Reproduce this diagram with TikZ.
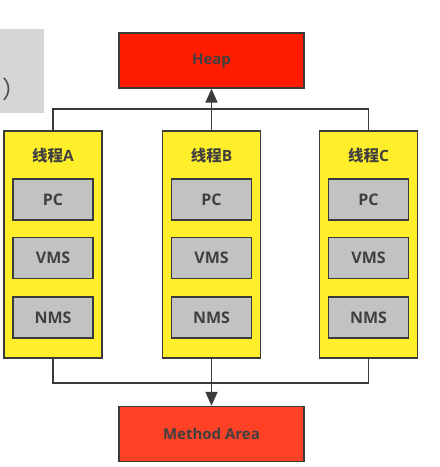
\documentclass[tikz,border=0pt]{standalone}
\usepackage{fontspec}
\setmainfont{Open Sans}
\newfontfamily\cjk{Noto Sans CJK SC}
\usetikzlibrary{arrows.meta, positioning}
\definecolor{heapred}{HTML}{FF1C00}
\definecolor{methodred}{HTML}{FF4226}
\definecolor{threadyellow}{HTML}{FFEF2A}
\definecolor{reggray}{HTML}{C2C2C2}
\definecolor{edgegray}{HTML}{3A3A3A}
\definecolor{taggray}{HTML}{D6D6D6}
\tikzstyle{area} = [rectangle, minimum width=185pt, minimum height=55pt, text centered, draw=edgegray, line width=1.4pt, text=black!75, font=\bfseries\fontsize{15}{17}\selectfont]
\tikzstyle{thread} = [rectangle, minimum width=98pt, minimum height=227pt, draw=edgegray, fill=threadyellow, line width=1.4pt]
\tikzstyle{threadlabel} = [text=black!75, font=\bfseries\fontsize{15.5}{17}\selectfont, inner sep=2pt]
\tikzstyle{reg} = [rectangle, minimum width=80pt, minimum height=41pt, text centered, draw=edgegray, fill=reggray, line width=1.8pt, text=black!75, font=\bfseries\fontsize{16}{18}\selectfont]
\tikzstyle{line} = [line width=1.6pt, edgegray]
\tikzstyle{arrow} = [line width=1.6pt, edgegray, -{Triangle[length=14pt,width=12pt]}]

\begin{document}
\begin{tikzpicture}[x=1pt, y=-1pt]
\useasboundingbox (0,0) rectangle (440,467);
\fill[white] (0,0) rectangle (440,467);

% overlay box top left
\node (tag) [rectangle, fill=taggray, minimum width=44pt, minimum height=84pt] at (22,71) {};
\node (tagtext) [text=black!70, font=\fontsize{24}{26}\selectfont, anchor=west, inner sep=0pt] at (2,89) {\cjk ）};

\node (heap) [area, fill=heapred] at (211.5,60.5) {Heap};
\node (method) [area, fill=methodred] at (211.5,434) {Method Area};

\foreach \t/\x in {A/53,B/211.5,C/368.5}{
  \node (thread\t) [thread] at (\x,244.5) {};
  \node (label\t) [threadlabel, below=16pt of thread\t.north] {{\cjk 线程}\t};
  \node (pc\t) [reg, below=48pt of thread\t.north] {PC};
  \node (vms\t) [reg, below=15.5pt of pc\t] {VMS};
  \node (nms\t) [reg, below=17pt of vms\t] {NMS};
}

\coordinate (topbus) at (211.5,109);
\coordinate (botbus) at (211.5,383);
\draw [line] (threadA.north) |- (topbus) -| (threadC.north);
\draw [arrow] (threadB.north) -- (heap.south);
\draw [line] (threadA.south) |- (botbus) -| (threadC.south);
\draw [arrow] (threadB.south) -- (method.north);
\end{tikzpicture}
\end{document}
